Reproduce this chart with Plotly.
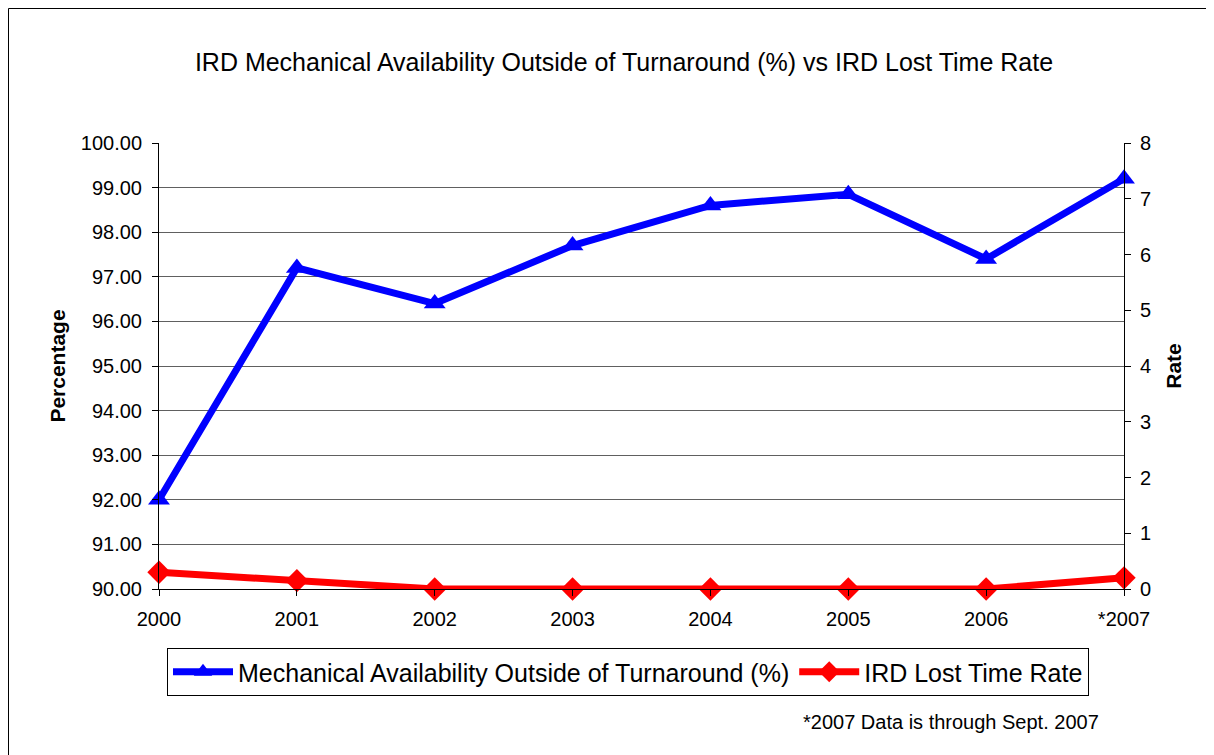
import plotly.graph_objects as go

categories = ["2000", "2001", "2002", "2003", "2004", "2005", "2006", "*2007"]
availability = [92.0, 97.2, 96.4, 97.7, 98.6, 98.85, 97.4, 99.2]
lost_time_rate = [0.3, 0.15, 0.0, 0.0, 0.0, 0.0, 0.0, 0.2]
left_ticks = [90, 91, 92, 93, 94, 95, 96, 97, 98, 99, 100]
right_ticks = [0, 1, 2, 3, 4, 5, 6, 7, 8]

xpos = list(range(len(categories)))
FONT = "Liberation Sans, Arial, sans-serif"

# figure is placed at an 8px page offset (body margin)
W, H = 1206, 747
ML, MT, MR, MB = 151, 135, 90, 166
PW, PH = W - ML - MR, H - MT - MB


def px(xp):
    return (xp - 8 - ML) / PW


def py(yp):
    return (H - MB - (yp - 8)) / PH


fig = go.Figure()
fig.add_trace(go.Scatter(
    x=xpos, y=availability, name="Mechanical Availability Outside of Turnaround (%)",
    mode="lines+markers", line=dict(color="#0000FF", width=7),
    marker=dict(symbol="triangle-up", size=19, color="#0000FF"), yaxis="y", cliponaxis=False))
fig.add_trace(go.Scatter(
    x=xpos, y=lost_time_rate, name="IRD Lost Time Rate",
    mode="lines+markers", line=dict(color="#FF0000", width=7),
    marker=dict(symbol="diamond", size=18, color="#FF0000"), yaxis="y2", cliponaxis=False))

fig.update_layout(
    width=W, height=H,
    margin=dict(l=ML, r=MR, t=MT, b=MB),
    paper_bgcolor="white", plot_bgcolor="white",
    font=dict(family=FONT, color="black", size=20),
    title=dict(text="IRD Mechanical Availability Outside of Turnaround (%) vs IRD Lost Time Rate",
               x=(624 - 8) / W, xanchor="center", y=1 - (62 - 8) / H, yanchor="middle",
               yref="container", font=dict(size=25, family=FONT)),
    xaxis=dict(range=[0, 7], tickvals=xpos, ticktext=categories, showgrid=False,
               showline=True, linecolor="black", linewidth=1, ticks="outside", ticklen=6,
               tickcolor="black", zeroline=False, tickfont=dict(size=20),
               ticklabelstandoff=6),
    yaxis=dict(range=[90, 100], tickvals=left_ticks, tickformat=".2f",
               showgrid=True, gridcolor="#606060", gridwidth=1,
               showline=True, linecolor="black", linewidth=1, ticks="outside", ticklen=6,
               tickcolor="black", zeroline=False, ticklabelstandoff=6,
               title=dict(text="<b>Percentage</b>", font=dict(size=21), standoff=9)),
    yaxis2=dict(range=[0, 8], tickvals=right_ticks, overlaying="y", side="right",
                showgrid=False, showline=True, linecolor="black", linewidth=1,
                ticks="outside", ticklen=6, tickcolor="black", zeroline=False,
                ticklabelstandoff=5,
                title=dict(text="<b>Rate</b>", font=dict(size=21), standoff=16)),
    showlegend=True,
    legend=dict(orientation="h", x=px(167), y=py(648), xanchor="left", yanchor="top",
                bordercolor="black", borderwidth=1, font=dict(size=25),
                itemwidth=60, tracegroupgap=0),
)

fig.add_annotation(text="*2007 Data is through Sept. 2007", xref="paper", yref="paper",
                   x=px(1101), y=py(722), xanchor="right", yanchor="middle",
                   showarrow=False, font=dict(size=20, family=FONT))

fig.add_shape(type="rect", xref="paper", yref="paper",
              x0=px(8.5), x1=px(1208), y0=py(780), y1=py(8.5),
              line=dict(color="black", width=1), layer="below")

fig.write_html("out.html")
